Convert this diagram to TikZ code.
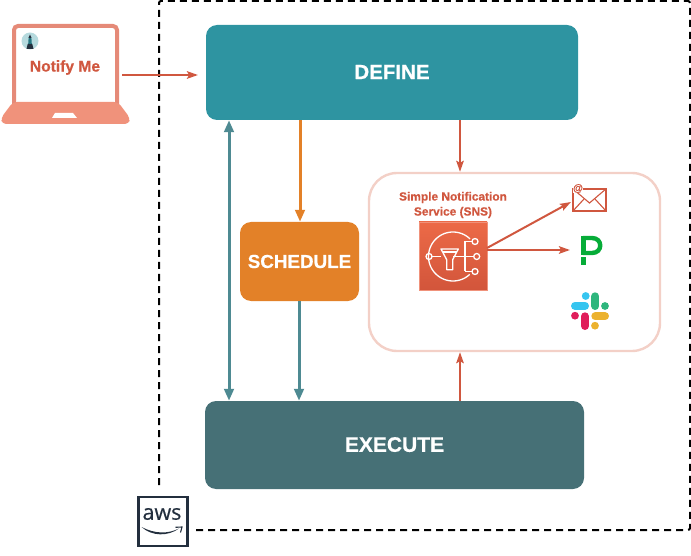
\documentclass[tikz,border=0pt]{standalone}
\usepackage{fontspec}
\setmainfont{Liberation Sans}[BoldFeatures={FakeBold=0.5}]
\newfontfamily\awsfont{Open Sans}[FakeBold=0.4]
\usetikzlibrary{arrows.meta}
\definecolor{defc}{HTML}{2E94A1}
\definecolor{schc}{HTML}{E38128}
\definecolor{exec}{HTML}{467076}
\definecolor{redc}{HTML}{D0573F}
\definecolor{tealc}{HTML}{4E8A92}
\definecolor{lapc}{HTML}{F0927B}
\definecolor{lapd}{HTML}{E58A78}
\definecolor{pinkc}{HTML}{F3D0C7}
\definecolor{awsc}{HTML}{232F3E}
\definecolor{greenP}{HTML}{06AC38}
\definecolor{snstop}{HTML}{EC6A47}
\definecolor{snsbot}{HTML}{D2553B}
\definecolor{slackblue}{HTML}{36C5F0}
\definecolor{slackgreen}{HTML}{2EB67D}
\definecolor{slackred}{HTML}{E01E5A}
\definecolor{slackyellow}{HTML}{ECB22E}
\tikzset{
  stage/.style={draw=none,rounded corners=11pt,text=white,inner sep=0pt,font=\bfseries},
  redarrow/.style={draw=redc,line width=2pt,-{Stealth[length=11pt,width=7.5pt,inset=2pt]}},
  orangearrow/.style={draw=schc,line width=3pt,-{Triangle[length=12pt,width=9.5pt]}},
  tealarrow/.style={draw=tealc,line width=3pt,-{Triangle[length=12pt,width=9.5pt]}},
  tealboth/.style={draw=tealc,line width=3pt,{Triangle[length=12pt,width=9.5pt]}-{Triangle[length=12pt,width=9.5pt]}},
  iconline/.style={draw=white,line width=1.3pt},
  pill/.style={line width=8pt,line cap=round},
}
\begin{document}
\begin{tikzpicture}[x=1pt,y=-1pt]
\useasboundingbox (0,0) rectangle (691,556);
% AWS account boundary
\draw[black,line width=2pt,dash pattern=on 7pt off 5pt,rounded corners=2pt]
  (159,485) -- (159,1) -- (690,1) -- (690,530) -- (195,530);
% Stages
\node[stage,fill=defc,minimum width=372pt,minimum height=95pt] (define) at (392,72.5) {\raisebox{1pt}{\fontsize{20.5}{24}\selectfont DEFINE}};
\node[stage,fill=schc,minimum width=119pt,minimum height=79pt] (schedule) at (299.5,261.5) {\fontsize{18.8}{22}\selectfont SCHEDULE};
\node[stage,fill=exec,minimum width=379pt,minimum height=88pt] (execute) at (394.5,445) {\raisebox{1pt}{\fontsize{21}{25}\selectfont EXECUTE}};
\node[draw=pinkc,line width=2.4pt,rounded corners=28pt,minimum width=291pt,minimum height=178pt,inner sep=0pt] (snsbox) at (514.5,262) {};
% Laptop
\draw[draw=lapd,line width=4pt,fill=white,rounded corners=4pt] (14,104) -- (14,26) -- (117,26) -- (117,104);
\fill[lapc,rounded corners=4pt] (13,102) -- (118,102) -- (130,118) -- (129,124) -- (2,124) -- (1,118) -- cycle;
\fill[white] (55,113) -- (73,113) -- (77,118) -- (52,118) -- cycle;
\node[inner sep=0pt,text=redc,font=\bfseries\fontsize{15.6}{18}\selectfont] (notify) at (65,67.5) {Notify Me};
\coordinate (laptopout) at (122,75);
\coordinate (definein) at (198,75);
% Lighthouse badge
\fill[fill=defc!35!white] (30,41) circle (8.5pt);
\fill[awsc] (26.5,49) -- (33.5,49) -- (32.3,44) -- (27.7,44) -- cycle;
\fill[defc!80!black] (28.2,44) -- (31.8,44) -- (31.4,38) -- (28.6,38) -- cycle;
\fill[awsc] (28.4,38) -- (31.6,38) -- (30,34.5) -- cycle;
% SNS service
\node[inner sep=0pt,text=redc,align=center,font=\bfseries\fontsize{11.9}{15}\selectfont] (snstitle) at (453,205) {Simple Notification\\Service (SNS)};
\shade[top color=snstop,bottom color=snsbot] (419,222) rectangle (487,290);
\node[draw=lapc,line width=0.8pt,minimum width=68pt,minimum height=68pt,inner sep=0pt] (sns) at (453,256) {};
% SNS glyph
\draw[iconline] plot[domain=-46:-313,samples=60] ({453+24.5*cos(\x)},{256.5+24.5*sin(\x)});
\draw[iconline] (429,256.5) circle (3pt);
\draw[iconline] (432,256.5) -- (441,256.5);
\draw[iconline,line join=round] (441,249) -- (458.3,249) -- (452.7,259.7) -- (452.7,269.7) -- (446.7,269.7) -- (446.7,259.7) -- cycle;
\draw[iconline] (442.5,252) -- (456.8,252);
\draw[iconline] (453,256.5) -- (473.7,256.5);
\draw[iconline] (465,241.5) -- (465,271.5);
\draw[iconline] (465,241.5) -- (472,241.5);
\draw[iconline] (465,271.5) -- (472,271.5);
\draw[iconline] (475,241.5) circle (3pt);
\draw[iconline] (476.7,256.5) circle (3pt);
\draw[iconline] (475,271.5) circle (3pt);
% Mail icon
\node[draw=redc,line width=1.1pt,fill=white,minimum width=33pt,minimum height=22pt,inner sep=0pt] (mail) at (589.5,200) {};
\draw[redc,line width=1.1pt] (mail.north west) -- (589.5,203) -- (mail.north east);
\draw[redc,line width=1.1pt] (mail.south west) -- (584,199);
\draw[redc,line width=1.1pt] (mail.south east) -- (595,199);
\node[fill=white,inner sep=0.5pt,text=redc,font=\bfseries\fontsize{10}{10}\selectfont] (at) at (578,188.5) {@};
% PagerDuty glyph
\fill[greenP] (581,236) rectangle (585.7,255);
\draw[greenP,line width=4.4pt] (583,238) -- (592,238) .. controls (603,238) and (603,253) .. (592,253) -- (583,253);
\fill[greenP] (581,257.5) rectangle (585.7,265);
\coordinate (pd) at (570,250);
% Slack glyph
\draw[pill,color=slackblue] (575,305.8) -- (585,305.8);
\fill[slackblue] (585.7,296) circle (3.9pt);
\draw[pill,color=slackgreen] (595.3,296.3) -- (595.3,306);
\fill[slackgreen] (605,306) circle (3.9pt);
\draw[pill,color=slackred] (585,316.3) -- (585,326);
\fill[slackred] (575,315.7) circle (3.9pt);
\draw[pill,color=slackyellow] (595.3,316.3) -- (605,316.3);
\fill[slackyellow] (595,325.7) circle (3.9pt);
% AWS logo
\node[draw=awsc,line width=2.2pt,minimum width=49pt,minimum height=49pt,inner sep=0pt] (aws) at (163,521.7) {};
\node[inner sep=0pt,text=awsc,font=\awsfont\fontsize{21.5}{21.5}\selectfont] (awstext) at (162,514) {aws};
\fill[awsc] (141.5,527) .. controls (155,534) and (168,534) .. (179,528.5) .. controls (168,536.5) and (152,536.5) .. (141.5,527) -- cycle;
\draw[awsc,line width=1.1pt] (175.5,527.3) -- (182,527) -- (180.5,532.5);
% Connectors
\draw[redarrow] (laptopout) -- (definein);
\draw[orangearrow] (300,0 |- define.south) -- (300,0 |- schedule.north);
\draw[tealarrow] (299,0 |- schedule.south) -- (299,0 |- execute.north);
\draw[tealboth] (229,0 |- define.south) -- (229,0 |- execute.north);
\draw[redarrow] (460,0 |- define.south) -- (460,0 |- snsbox.north);
\draw[redarrow] (460,0 |- execute.north) -- (460,0 |- snsbox.south);
\draw[redarrow] (487,248) -- (571,202);
\draw[redarrow] (487,250) -- (pd);
\end{tikzpicture}
\end{document}
